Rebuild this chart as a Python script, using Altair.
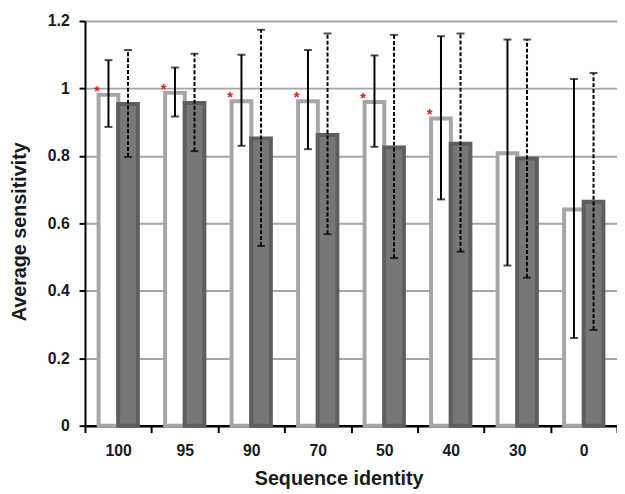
import altair as alt
import pandas as pd

categories = ["100", "95", "90", "70", "50", "40", "30", "0"]
series = ["A", "B"]

white_mean = [0.981, 0.987, 0.962, 0.962, 0.960, 0.911, 0.808, 0.641]
white_lo = [0.886, 0.917, 0.830, 0.820, 0.827, 0.671, 0.475, 0.260]
white_hi = [1.084, 1.062, 1.100, 1.114, 1.098, 1.155, 1.145, 1.028]

dark_mean = [0.954, 0.957, 0.852, 0.862, 0.825, 0.836, 0.792, 0.664]
dark_lo = [0.797, 0.814, 0.533, 0.568, 0.497, 0.516, 0.439, 0.284]
dark_hi = [1.114, 1.103, 1.174, 1.163, 1.159, 1.163, 1.145, 1.046]

star = [True, True, True, True, True, True, False, False]

y_ticks = [0, 0.2, 0.4, 0.6, 0.8, 1.0, 1.2]

rows = []
for i, c in enumerate(categories):
    rows.append({"cat": c, "series": "A", "mean": white_mean[i], "lo": white_lo[i],
                 "hi": white_hi[i], "star": star[i]})
for i, c in enumerate(categories):
    rows.append({"cat": c, "series": "B", "mean": dark_mean[i], "lo": dark_lo[i],
                 "hi": dark_hi[i], "star": False})
df = pd.DataFrame(rows)

FONT = "Liberation Sans"

xaxis = alt.Axis(
    title="Sequence identity", labelAngle=0, tickBand="extent",
    domainColor="black", domainWidth=2.5, tickColor="black", tickWidth=2, tickSize=7,
    labelFont=FONT, labelFontSize=16, labelFontWeight="bold", labelColor="#1a1a1a",
    labelPadding=10,
    titleFont=FONT, titleFontSize=20, titleFontWeight="bold", titleColor="#1a1a1a",
    titleX=257, titleY=60, titleAlign="center", titleBaseline="alphabetic",
)
yaxis = alt.Axis(
    title="Average sensitivity", values=y_ticks, format="~g",
    grid=True, gridColor="#a6a6a6", gridWidth=2,
    domainColor="black", domainWidth=2, tickColor="black", tickWidth=2, tickSize=6,
    labelFont=FONT, labelFontSize=16, labelFontWeight="bold", labelColor="#1a1a1a",
    labelPadding=10,
    titleFont=FONT, titleFontSize=20, titleFontWeight="bold", titleColor="#1a1a1a",
    titleX=-66, titleY=213, titleAngle=-90, titleAlign="center", titleBaseline="middle",
)
yscale = alt.Scale(domain=[0, 1.2], nice=False, zero=True)

X = alt.X("cat:N", sort=categories, scale=alt.Scale(paddingInner=0, paddingOuter=0), axis=xaxis)
XO = alt.XOffset("series:N", sort=series,
                 scale=alt.Scale(domain=series, paddingInner=0, paddingOuter=0.7))


def Y(field):
    return alt.Y(f"{field}:Q", scale=yscale, axis=yaxis, title="Average sensitivity")


base = alt.Chart(df).encode(x=X, xOffset=XO)

bars = base.mark_bar(size=20, strokeWidth=4).encode(
    y=Y("mean"),
    fill=alt.Fill("series:N", scale=alt.Scale(domain=series, range=["#ffffff", "#777777"]), legend=None),
    stroke=alt.Stroke("series:N", scale=alt.Scale(domain=series, range=["#a6a6a6", "#5e5e5e"]), legend=None),
)

rules = base.mark_rule(color="black", strokeWidth=2).encode(
    y=Y("lo"), y2="hi:Q",
    strokeDash=alt.StrokeDash("series:N", scale=alt.Scale(domain=series, range=[[1, 0], [4, 2]]), legend=None),
)

cap_lo = base.mark_tick(color="black", size=8, thickness=2, orient="horizontal").encode(y=Y("lo"))
cap_hi = base.mark_tick(color="black", size=8, thickness=2, orient="horizontal").encode(y=Y("hi"))

stars = base.mark_text(text="*", color="#e32219", fontSize=15, fontWeight="bold", font=FONT,
                       dx=-11.5, dy=1, baseline="alphabetic").encode(
    y=Y("mean")
).transform_filter("datum.star")

chart = alt.layer(bars, rules, cap_lo, cap_hi, stars).properties(
    width=539, height=410,
    padding={"left": 78, "top": 10, "right": 0, "bottom": 66},
    autosize=alt.AutoSizeParams(type="none"),
).configure_view(stroke=None)

chart.save("out.html", embed_options={"renderer": "svg", "actions": False})
